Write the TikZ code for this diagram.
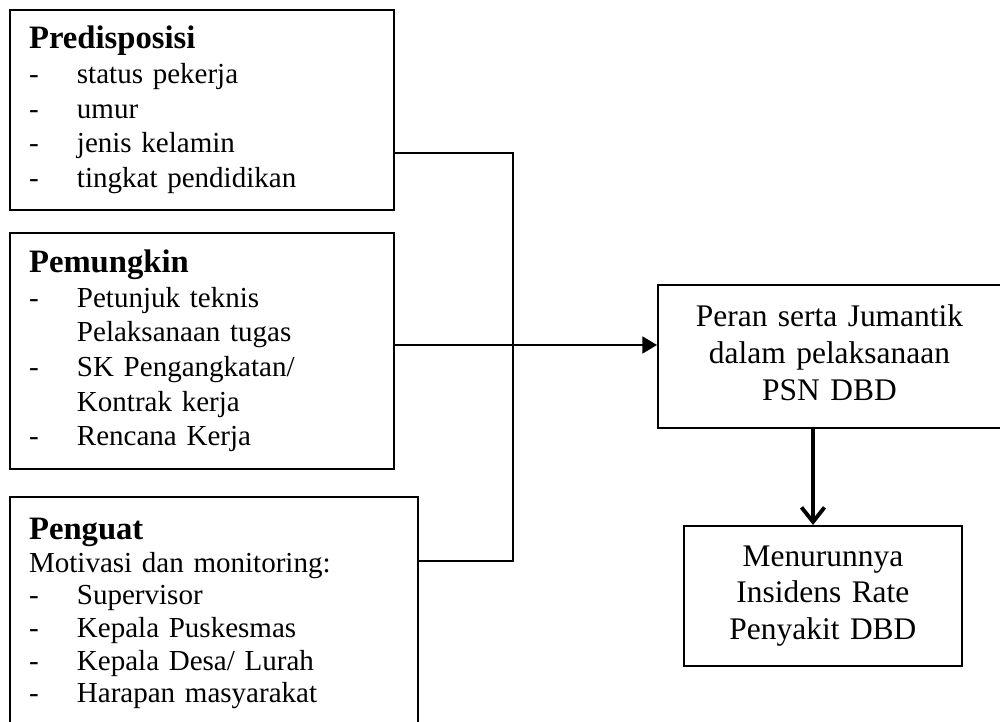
\documentclass[tikz,border=0pt]{standalone}
\usepackage{fontspec}
\setmainfont{Liberation Serif}
\usetikzlibrary{arrows.meta,positioning}
\tikzset{
  kotak/.style={draw, line width=0.8pt, anchor=north west, inner xsep=7.9pt, inner ysep=0pt,
    align=left, font=\fontsize{12}{14.3}\selectfont},
  kotakhasil/.style={draw, line width=0.8pt, anchor=north west, inner sep=0pt,
    align=center, font=\fontsize{13}{15.2}\selectfont},
  garis/.style={line width=0.7pt},
  panah/.style={line width=0.7pt, -{Triangle[length=6pt,width=7pt]}},
  panahtebal/.style={line width=1.6pt, -{Straight Barb[length=6pt,width=9.5pt]}}
}
\newcommand{\judul}[1]{{\fontsize{13.5}{14.3}\selectfont\bfseries #1}}
\newcommand{\butir}[1]{\makebox[19.8pt][l]{-}#1}
\newcommand{\lanjut}[1]{\hspace*{19.8pt}#1}

\begin{document}
\begin{tikzpicture}[x=0.4134pt, y=-0.4134pt]
  \useasboundingbox (0,0) rectangle (1000,722);
  % faktor-faktor
  \node[kotak, minimum height=82.7pt, text width=142.9pt] (pre) at (9,9)
    {\judul{Predisposisi}\\ \butir{status pekerja}\\ \butir{umur}\\
     \butir{jenis kelamin}\\ \butir{tingkat pendidikan}};
  \node[kotak, minimum height=97.6pt, text width=142.9pt] (mungkin) at (9,232)
    {\judul{Pemungkin}\\ \butir{Petunjuk teknis}\\ \lanjut{Pelaksanaan tugas}\\
     \butir{SK Pengangkatan/}\\ \lanjut{Kontrak kerja}\\ \butir{Rencana Kerja}};
  \node[kotak, minimum height=96.5pt, text width=152.9pt,
        font=\fontsize{12}{13.5}\selectfont] (kuat) at (9,496)
    {\judul{Penguat}\\ Motivasi dan monitoring:\\ \butir{Supervisor}\\
     \butir{Kepala Puskesmas}\\ \butir{Kepala Desa/ Lurah}\\ \butir{Harapan masyarakat}};
  % hasil
  \node[kotakhasil, minimum height=59.1pt, text width=141.8pt] (peran) at (657,284)
    {Peran serta Jumantik\\ dalam pelaksanaan\\ PSN DBD\rule[-3.2pt]{0pt}{0pt}};
  \node[kotakhasil, minimum height=57.9pt, text width=114.9pt] (turun) at (683,525)
    {Menurunnya\\ Insidens Rate\\ Penyakit DBD};

  \coordinate (sambungA) at (513,153);
  \coordinate (sambungB) at (513,561);
  \coordinate (panahY) at (0,345);
  \coordinate (tengah) at (813,0);
  \draw[garis] (pre.east |- sambungA) -| (sambungB) -- (kuat.east |- sambungB);
  \draw[panah] (mungkin.east |- panahY) -- (peran.west |- panahY);
  \draw[panahtebal] (peran.south -| tengah) -- (turun.north -| tengah);
\end{tikzpicture}
\end{document}
